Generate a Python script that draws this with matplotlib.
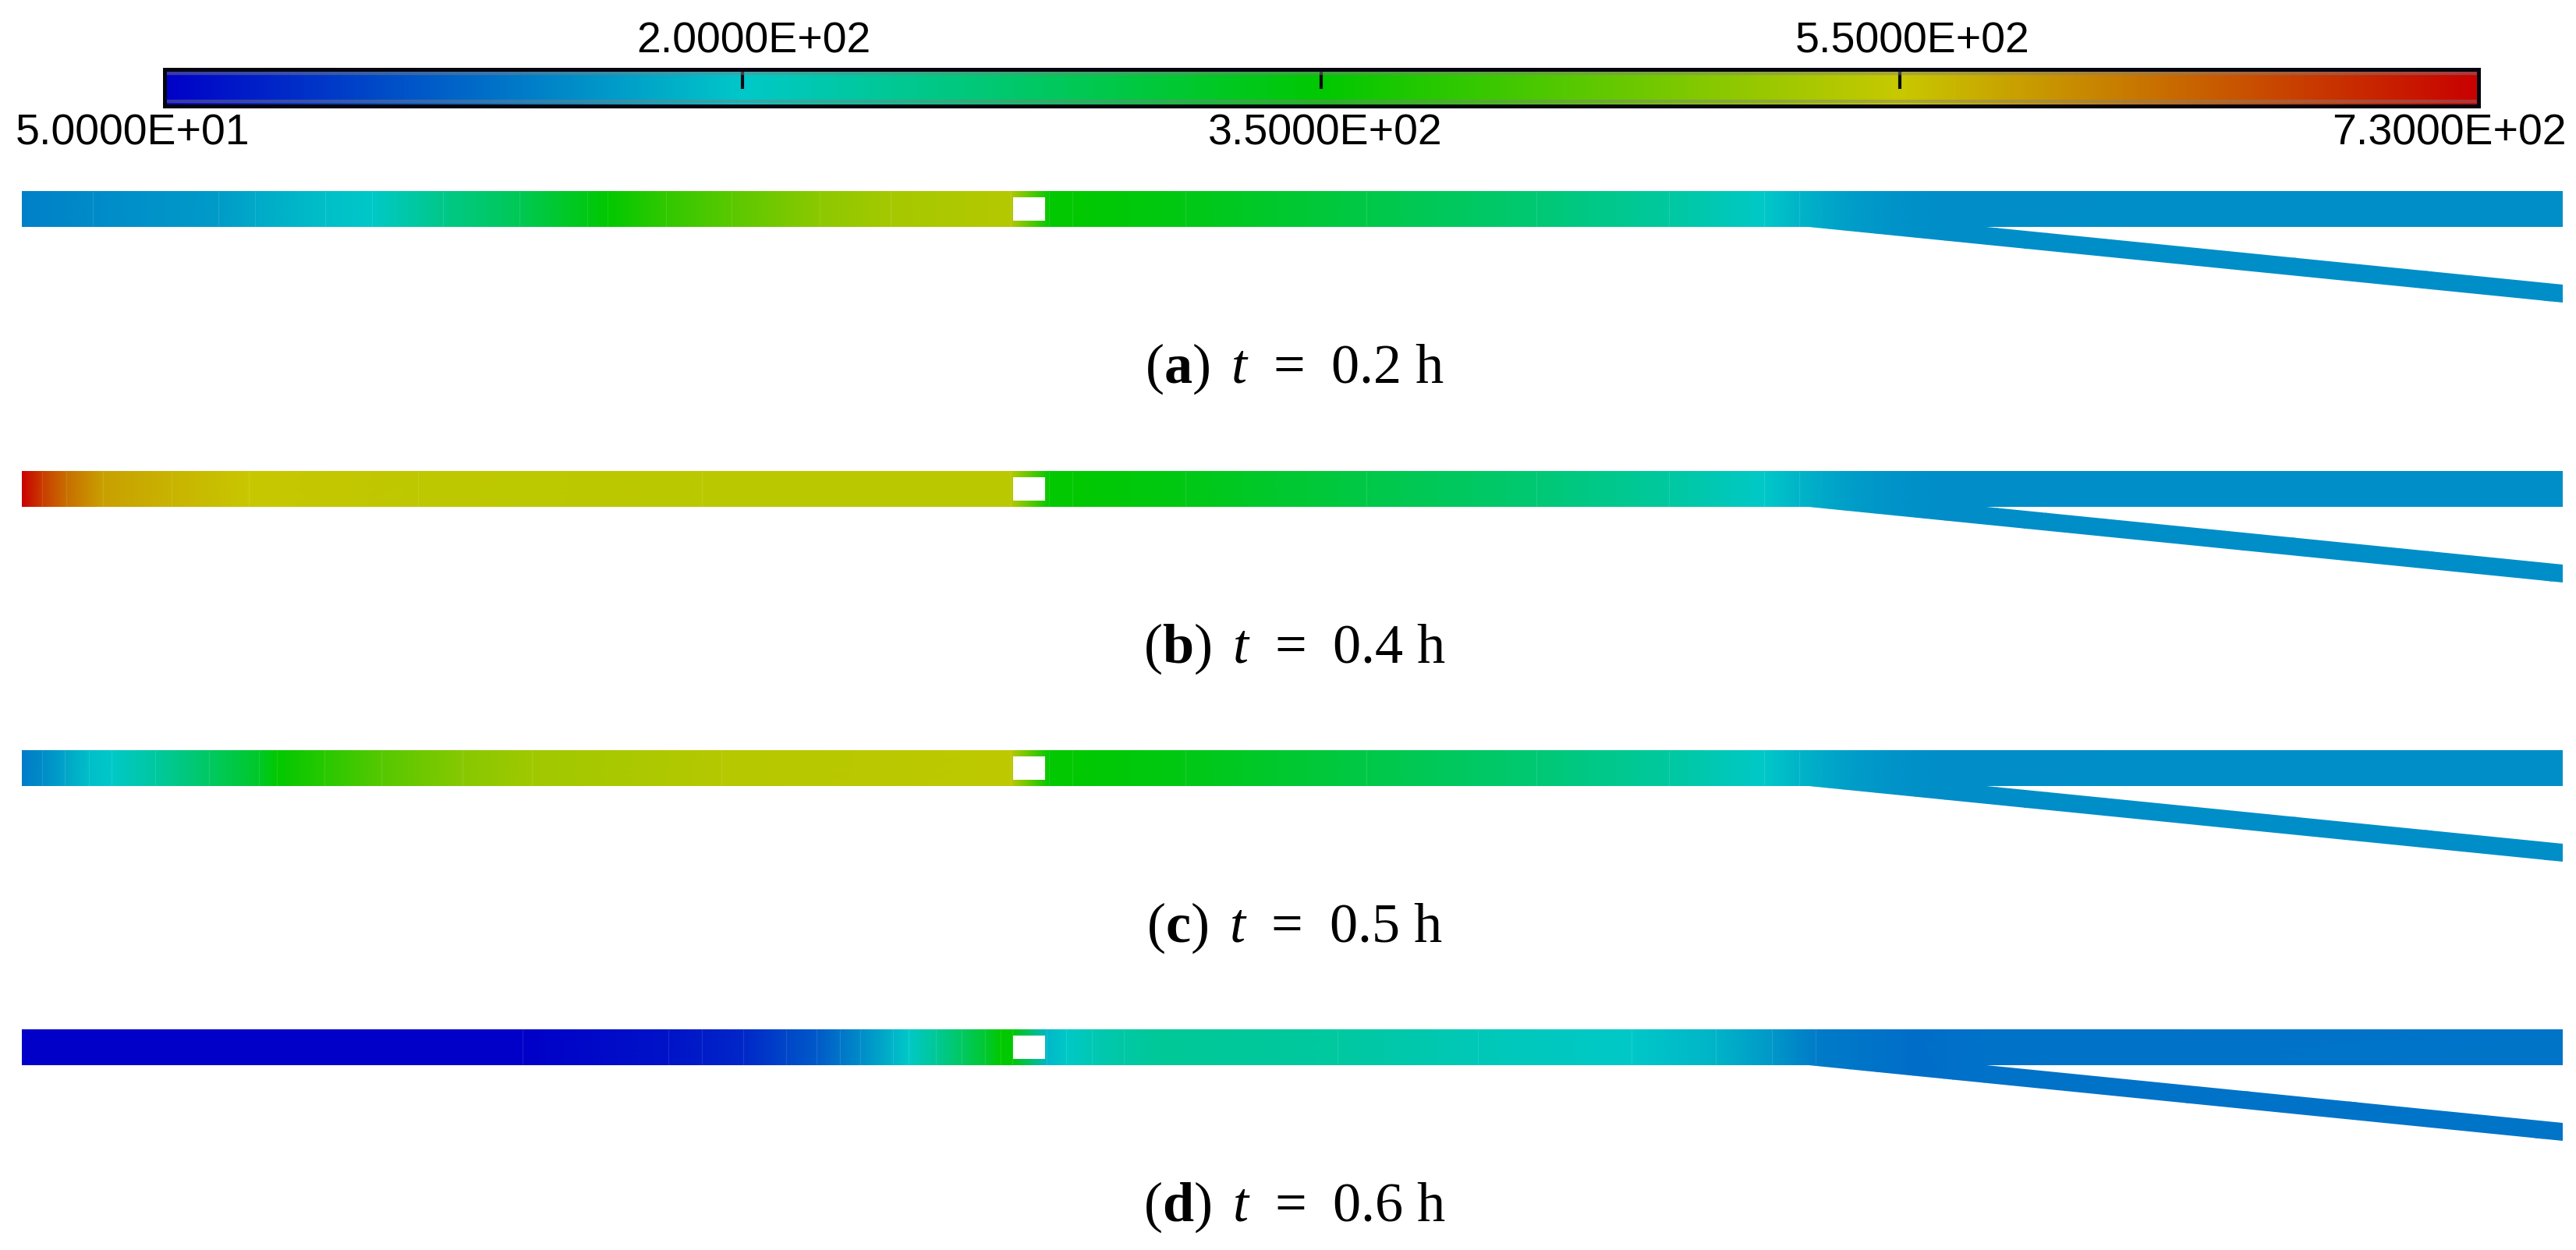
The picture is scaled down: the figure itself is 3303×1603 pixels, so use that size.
import numpy as np
import matplotlib
matplotlib.use("Agg")
import matplotlib.pyplot as plt
from matplotlib.colors import LinearSegmentedColormap, Normalize
from matplotlib.patches import PathPatch, Rectangle
from matplotlib.path import Path

plt.rcParams['mathtext.fontset'] = 'custom'
plt.rcParams['mathtext.rm'] = 'Liberation Serif'
plt.rcParams['mathtext.it'] = 'Liberation Serif:italic'
plt.rcParams['mathtext.bf'] = 'Liberation Serif:bold'

# ---- data -----------------------------------------------------------------
VMIN, VMAX = 50, 730
colormap_colors = ['#0000c8', '#00c8c8', '#00c800', '#c8c800', '#c80000']
tick_values = [220, 390, 560]
bar_labels = ['5.0000E+01', '2.0000E+02', '3.5000E+02', '5.5000E+02', '7.3000E+02']

# temperature along the duct (station, value)
right_x = [1345, 1375, 1520, 1752, 1970, 2140, 2262, 2307, 2364, 2430, 2494, 2700, 3286]
right_T = [392, 390, 373, 330, 292, 254, 220, 203, 186, 176, 170, 172, 172]

a_x = [28, 119, 280, 327, 417, 477, 568, 666, 753, 779, 854, 938, 1051, 1142, 1296] + right_x
a_T = [160, 169, 182, 194, 213, 220, 274, 318, 373, 390, 432, 466, 509, 530, 543] + right_T

b_x = [28, 54, 85, 132, 220, 319, 536, 900, 1296] + right_x
b_T = [730, 679, 636, 594, 577, 560, 552, 548, 547] + right_T

c_x = [28, 54, 83, 114, 143, 199, 268, 332, 355, 416, 489, 593, 682, 925, 1296] + right_x
c_T = [156, 169, 190, 213, 220, 254, 305, 356, 390, 424, 462, 505, 526, 543, 551] + right_T

d_x = [28, 670, 857, 900, 953, 1008, 1047, 1077, 1103, 1145, 1165, 1200, 1233, 1263, 1283, 1298,
       1342, 1367, 1400, 1441, 1490, 1715, 1895, 2092, 2200, 2272, 2328, 2453, 2544, 3286]
d_T = [50, 50, 67, 75, 84, 110, 126, 149, 169, 203, 220, 262, 305, 348, 390, 390,
       206, 220, 237, 250, 262, 254, 234, 220, 203, 179, 156, 144, 148, 150]

panel_x = [a_x, b_x, c_x, d_x]
panel_T = [a_T, b_T, c_T, d_T]
panel_tags = ['a', 'b', 'c', 'd']
panel_times = ['0.2', '0.4', '0.5', '0.6']

# ---- layout ---------------------------------------------------------------
W, H = 3303, 1603
TOPS = [245, 603.5, 962, 1320]
STRIP_H = 46
X0, X1 = 28, 3286

cmap = LinearSegmentedColormap.from_list('bar', colormap_colors, N=512)
norm = Normalize(VMIN, VMAX)

fig = plt.figure(figsize=(W / 100, H / 100), dpi=100, facecolor='white')
ax = fig.add_axes([0, 0, 1, 1])
ax.set_xlim(0, W)
ax.set_ylim(H, 0)
ax.axis('off')

# ---- strips ---------------------------------------------------------------
for top, xs, Ts, tag, tm in zip(TOPS, panel_x, panel_T, panel_tags, panel_times):
    bot = top + STRIP_H
    xs = np.asarray(xs, float)
    Ts = np.asarray(Ts, float)
    XX = np.vstack([xs, xs])
    YY = np.vstack([np.full_like(xs, top), np.full_like(xs, bot + 100)])
    CC = np.vstack([Ts, Ts])
    mesh = ax.pcolormesh(XX, YY, CC, shading='gouraud', cmap=cmap, norm=norm, zorder=1)
    verts = [(X0, top), (X1, top), (X1, bot), (2547, bot), (X1, bot + 74),
             (X1, bot + 97), (2319, bot), (X0, bot), (X0, top)]
    codes = [Path.MOVETO] + [Path.LINETO] * 7 + [Path.CLOSEPOLY]
    clip = PathPatch(Path(verts, codes), transform=ax.transData, fc='none', ec='none')
    ax.add_patch(clip)
    mesh.set_clip_path(clip)
    # isotherm band lines, only where the field actually changes
    band = [x for x, t0, t1 in zip(xs[1:-1], Ts[:-2], Ts[2:]) if x < 2350 and abs(t1 - t0) > 4]
    ax.vlines(band, top, bot, color='white', alpha=0.11, lw=0.9, zorder=2)
    # hole
    ax.add_patch(Rectangle((1298.5, top + 8), 41.5, 30, fc='white', ec='none', zorder=3))
    ax.text(1660, top + 246,
            r'$\mathrm{(}\mathbf{%s}\mathrm{)}\ \,t\;\,=\;\,%s\ \mathrm{h}$' % (tag, tm),
            fontsize=52, ha='center', va='baseline', color='black', zorder=4)

# ---- colour bar -----------------------------------------------------------
cax = fig.add_axes([210.5 / W, 1 - 135.5 / H, (3177.5 - 210.5) / W, 47 / H])
grad = np.linspace(VMIN, VMAX, 1024)
cax.pcolormesh(grad, [0, 1], np.vstack([grad[:-1]]), cmap=cmap, norm=norm)
cax.set_xlim(VMIN, VMAX)
cax.set_ylim(0, 1)
cax.set_yticks([])
cax.set_xticks(tick_values)
cax.set_xticklabels([])
cax.tick_params(axis='x', top=True, bottom=False, direction='in', length=18, width=3, color='#0a0a14')
for s in cax.spines.values():
    s.set_linewidth(3.6)
    s.set_color('#050510')
for yy in (0.12, 0.88):
    cax.axhline(yy, color='#808080', alpha=0.45, lw=3.2)

label_cfg = [(170, 186), (966, 67), (1699, 186), (2452, 67), (3140, 186)]
for (lx, ly), txt in zip(label_cfg, bar_labels):
    ax.text(lx, ly, txt, fontsize=40, family='Liberation Sans', ha='center', va='baseline', color='black')

fig.savefig('out.png', dpi=100, facecolor='white')
